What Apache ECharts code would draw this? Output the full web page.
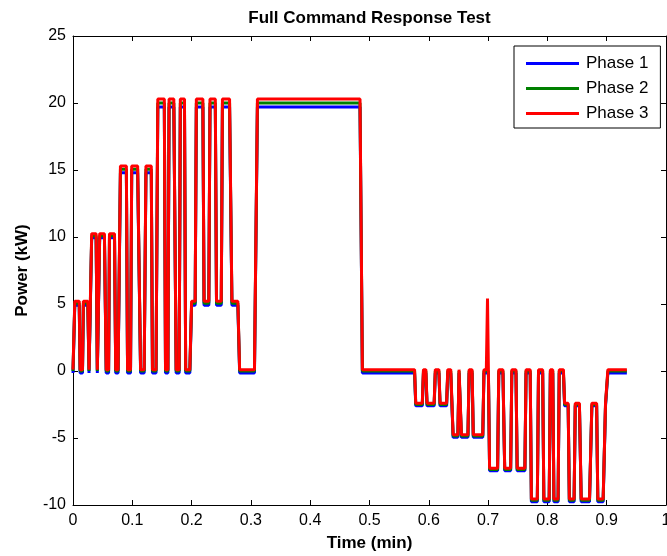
<!DOCTYPE html>
<html><head><meta charset="utf-8">
<script src="https://cdn.jsdelivr.net/npm/echarts@6/dist/echarts.min.js"></script>
<style>html,body{margin:0;padding:0;background:#fff}#c{width:667px;height:556px}</style>
</head><body><div id="c"></div>
<script>
const timeMin = [
0.000,0.003,0.0105,0.012,0.016,0.0175,0.025,0.027,0.030,0.0315,
0.039,0.041,0.0435,0.045,0.053,0.056,0.060,0.0615,0.070,0.072,
0.076,0.080,0.090,0.092,0.097,0.099,0.109,0.114,0.120,0.123,
0.132,0.134,0.140,0.143,0.154,0.156,0.160,0.162,0.170,0.174,
0.179,0.181,0.188,0.190,0.197,0.200,0.206,0.208,0.219,0.221,
0.229,0.231,0.240,0.242,0.250,0.252,0.264,0.268,0.278,0.281,
0.306,0.311,0.484,0.488,0.576,0.578,0.589,0.591,0.595,0.597,
0.609,0.611,0.617,0.619,0.630,0.632,0.637,0.641,0.649,0.651,
0.653,0.655,0.666,0.668,0.673,0.675,0.691,0.693,0.697,0.699,
0.7005,0.7025,0.716,0.718,0.725,0.728,0.738,0.740,0.747,0.749,
0.762,0.764,0.771,0.773,0.783,0.785,0.792,0.794,0.803,0.805,
0.809,0.811,0.818,0.820,0.827,0.829,0.835,0.837,0.845,0.847,
0.854,0.857,0.871,0.875,0.883,0.885,0.894,0.898,0.902,0.934];

const phase1 = [
-0.15,4.9,4.9,-0.15,-0.15,4.9,4.9,-0.15,-0.15,9.95,
9.95,-0.15,-0.15,9.95,9.95,-0.15,-0.15,9.95,9.95,-0.15,
-0.15,14.8,14.8,-0.15,-0.15,14.8,14.8,-0.15,-0.15,14.8,
14.8,-0.15,-0.15,19.7,19.7,-0.15,-0.15,19.7,19.7,-0.15,
-0.15,19.7,19.7,-0.15,-0.15,4.9,4.9,19.7,19.7,4.9,
4.9,19.7,19.7,4.9,4.9,19.7,19.7,4.9,4.9,-0.15,
-0.15,19.7,19.7,-0.15,-0.15,-2.6,-2.6,-0.15,-0.15,-2.6,
-2.6,-0.15,-0.15,-2.6,-2.6,-0.15,-0.15,-4.95,-4.95,-0.15,
-0.15,-4.95,-4.95,-0.15,-0.15,-4.95,-4.95,-0.15,-0.15,-0.15,
-0.15,-7.45,-7.45,-0.15,-0.15,-7.45,-7.45,-0.15,-0.15,-7.45,
-7.45,-0.15,-0.15,-9.75,-9.75,-0.15,-0.15,-9.75,-9.75,-0.15,
-0.15,-9.75,-9.75,-0.15,-0.15,-2.6,-2.6,-9.75,-9.75,-2.6,
-2.6,-9.75,-9.75,-2.6,-2.6,-9.75,-9.75,-2.6,-0.15,-0.15];

const phase2 = [
0,5.05,5.05,0,0,5.05,5.05,0,0,10.1,
10.1,0,0,10.1,10.1,0,0,10.1,10.1,0,
0,15.05,15.05,0,0,15.05,15.05,0,0,15.05,
15.05,0,0,20,20,0,0,20,20,0,
0,20,20,0,0,5.05,5.05,20,20,5.05,
5.05,20,20,5.05,5.05,20,20,5.05,5.05,0,
0,20,20,0,0,-2.5,-2.5,0,0,-2.5,
-2.5,0,0,-2.5,-2.5,0,0,-4.85,-4.85,0,
0,-4.85,-4.85,0,0,-4.85,-4.85,0,0,0,
0,-7.35,-7.35,0,0,-7.35,-7.35,0,0,-7.35,
-7.35,0,0,-9.65,-9.65,0,0,-9.65,-9.65,0,
0,-9.65,-9.65,0,0,-2.5,-2.5,-9.65,-9.65,-2.5,
-2.5,-9.65,-9.65,-2.5,-2.5,-9.65,-9.65,-2.5,0,0];

const phase3 = [
0.1,5.2,5.2,0.1,0.1,5.2,5.2,0.1,0.1,10.25,
10.25,0.1,0.1,10.25,10.25,0.1,0.1,10.25,10.25,0.1,
0.1,15.3,15.3,0.1,0.1,15.3,15.3,0.1,0.1,15.3,
15.3,0.1,0.1,20.3,20.3,0.1,0.1,20.3,20.3,0.1,
0.1,20.3,20.3,0.1,0.1,5.2,5.2,20.3,20.3,5.2,
5.2,20.3,20.3,5.2,5.2,20.3,20.3,5.2,5.2,0.1,
0.1,20.3,20.3,0.1,0.1,-2.4,-2.4,0.1,0.1,-2.4,
-2.4,0.1,0.1,-2.4,-2.4,0.1,0.1,-4.75,-4.75,0.1,
0.1,-4.75,-4.75,0.1,0.1,-4.75,-4.75,0.1,0.1,5.4,
0.1,-7.25,-7.25,0.1,0.1,-7.25,-7.25,0.1,0.1,-7.25,
-7.25,0.1,0.1,-9.55,-9.55,0.1,0.1,-9.55,-9.55,0.1,
0.1,-9.55,-9.55,0.1,0.1,-2.4,-2.4,-9.55,-9.55,-2.4,
-2.4,-9.55,-9.55,-2.4,-2.4,-9.55,-9.55,-2.4,0.1,0.1];

const seriesNames = ['Phase 1', 'Phase 2', 'Phase 3'];
const xTickLabels = ['0','0.1','0.2','0.3','0.4','0.5','0.6','0.7','0.8','0.9','1'];
const yTickLabels = ['-10','-5','0','5','10','15','20','25'];
const chartTitle = 'Full Command Response Test';

const FONT = 'Liberation Sans, Arial, Helvetica, sans-serif';
const chart = echarts.init(document.getElementById('c'), null, {renderer: 'canvas'});

function pairs(vals) { return timeMin.map((t, i) => [t, vals[i]]); }

const tickStyle = {show: true, inside: true, length: 5, lineStyle: {color: '#000', width: 1}};
const lineStyleAxis = {show: true, onZero: false, lineStyle: {color: '#000', width: 1}};

const option = {
  animation: false,
  backgroundColor: '#fff',
  graphic: [{
    type: 'text', x: 369.5, y: 18,
    style: {text: chartTitle, textAlign: 'center', textVerticalAlign: 'middle',
      fontFamily: FONT, fontWeight: 'bold', fontSize: 17, fill: '#000'}
  }],
  grid: {left: 73, right: 1, top: 36, bottom: 51, containLabel: false, outerBoundsMode: 'none'},
  legend: {
    data: seriesNames,
    orient: 'vertical',
    left: 514, top: 46,
    padding: [9, 12, 6, 12],
    itemGap: 8,
    itemWidth: 53, itemHeight: 3,
    icon: 'rect',
    borderColor: '#000', borderWidth: 1, borderRadius: 0,
    backgroundColor: '#fff',
    textStyle: {fontFamily: FONT, fontSize: 17, color: '#000', padding: [0, 0, 0, 2]}
  },
  xAxis: [{
    type: 'value', min: 0, max: 1, interval: 0.1,
    name: 'Time (min)', nameLocation: 'middle', nameGap: 30,
    nameTextStyle: {fontFamily: FONT, fontWeight: 'bold', fontSize: 17, color: '#000'},
    axisLine: lineStyleAxis, axisTick: tickStyle, splitLine: {show: false},
    axisLabel: {fontFamily: FONT, fontSize: 16, color: '#000', margin: 8,
      formatter: v => xTickLabels[Math.round(v * 10)]}
  }, {
    type: 'value', min: 0, max: 1, interval: 0.1, position: 'top',
    axisLine: lineStyleAxis, axisTick: tickStyle, splitLine: {show: false},
    axisLabel: {show: false}
  }],
  yAxis: [{
    type: 'value', min: -10, max: 25, interval: 5,
    name: 'Power (kW)', nameLocation: 'middle', nameGap: 42,
    nameTextStyle: {fontFamily: FONT, fontWeight: 'bold', fontSize: 17, color: '#000'},
    axisLine: lineStyleAxis, axisTick: tickStyle, splitLine: {show: false},
    axisLabel: {fontFamily: FONT, fontSize: 16, color: '#000', margin: 7,
      formatter: v => yTickLabels[Math.round((v + 10) / 5)]}
  }, {
    type: 'value', min: -10, max: 25, interval: 5, position: 'right',
    axisLine: lineStyleAxis, axisTick: tickStyle, splitLine: {show: false},
    axisLabel: {show: false}
  }],
  series: [
    {name: seriesNames[0], type: 'line', data: pairs(phase1), showSymbol: false, symbol: 'none',
      color: '#0000ff', lineStyle: {color: '#0000ff', width: 3}, z: 2},
    {name: seriesNames[1], type: 'line', data: pairs(phase2), showSymbol: false, symbol: 'none',
      color: '#008000', lineStyle: {color: '#008000', width: 3}, z: 3},
    {name: seriesNames[2], type: 'line', data: pairs(phase3), showSymbol: false, symbol: 'none',
      color: '#ff0000', lineStyle: {color: '#ff0000', width: 3}, z: 4}
  ]
};
chart.setOption(option);
</script></body></html>
